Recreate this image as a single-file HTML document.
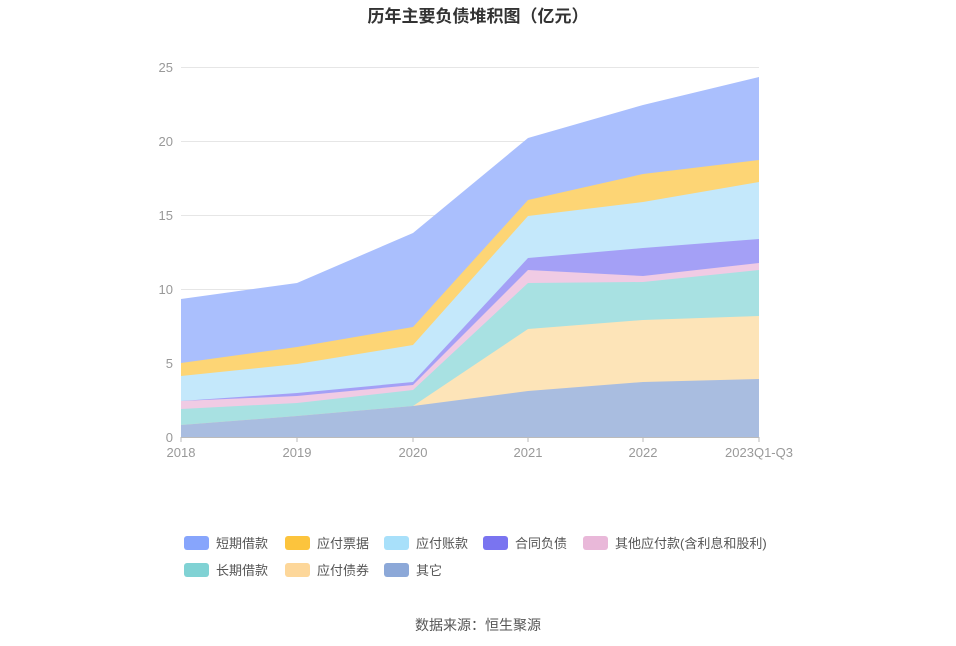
<!DOCTYPE html>
<html><head><meta charset="utf-8"><style>
body{margin:0;background:#fff;}
svg{display:block;font-family:"Liberation Sans","Noto Sans CJK SC",sans-serif;}
</style></head><body>
<svg width="956" height="646" viewBox="0 0 956 646" xmlns="http://www.w3.org/2000/svg">
<text x="478" y="22" text-anchor="middle" font-size="17" font-weight="bold" fill="#333">历年主要负债堆积图（亿元）</text>
<g stroke="#e6e6e6" stroke-width="1">
<line x1="181" y1="67.5" x2="759" y2="67.5"/><line x1="181" y1="141.5" x2="759" y2="141.5"/>
<line x1="181" y1="215.5" x2="759" y2="215.5"/><line x1="181" y1="289.5" x2="759" y2="289.5"/>
<line x1="181" y1="363.5" x2="759" y2="363.5"/>
</g>
<g font-size="13" fill="#999" text-anchor="end">
<text x="173" y="72">25</text><text x="173" y="146">20</text><text x="173" y="220">15</text>
<text x="173" y="294">10</text><text x="173" y="368">5</text><text x="173" y="442">0</text>
</g>
<!-- stacked areas, top to bottom drawn first -->
<polygon fill="#aabffd" points="181,299 297,283 413,233 528,138 643,105 759,77 759,437 181,437"/>
<polygon fill="#fdd575" points="181,363 297,347 413,327 528,200 643,174 759,160 759,437 181,437"/>
<polygon fill="#c4e8fb" points="181,376 297,364 413,345 528,216 643,202 759,182 759,437 181,437"/>
<polygon fill="#a4a0f6" points="181,401 297,393 413,382 528,258 643,248 759,239 759,437 181,437"/>
<polygon fill="#f0cbe4" points="181,401 297,396 413,385 528,270 643,276 759,263 759,437 181,437"/>
<polygon fill="#a8e1e2" points="181,409 297,403 413,390 528,283 643,282 759,270 759,437 181,437"/>
<polygon fill="#fde4b8" points="181,425 297,416 413,406 528,329 643,320 759,316 759,437 181,437"/>
<polygon fill="#a9bde0" points="181,425 297,416 413,406 528,391 643,382 759,379 759,437 181,437"/>
<line x1="181" y1="437.5" x2="759" y2="437.5" stroke="#bbb"/>
<g stroke="#bbb"><line x1="181" y1="437" x2="181" y2="442"/><line x1="297" y1="437" x2="297" y2="442"/><line x1="413" y1="437" x2="413" y2="442"/><line x1="528" y1="437" x2="528" y2="442"/><line x1="643" y1="437" x2="643" y2="442"/><line x1="759" y1="437" x2="759" y2="442"/></g>
<g font-size="13" fill="#999" text-anchor="middle">
<text x="181" y="457">2018</text><text x="297" y="457">2019</text><text x="413" y="457">2020</text>
<text x="528" y="457">2021</text><text x="643" y="457">2022</text><text x="759" y="457">2023Q1-Q3</text>
</g>
<g font-size="13" fill="#555">
<rect x="184" y="536" width="25" height="14" rx="3" fill="#87a5fc"/><text x="216" y="548">短期借款</text>
<rect x="285" y="536" width="25" height="14" rx="3" fill="#fcc43d"/><text x="317" y="548">应付票据</text>
<rect x="384" y="536" width="25" height="14" rx="3" fill="#a8e0fa"/><text x="416" y="548">应付账款</text>
<rect x="483" y="536" width="25" height="14" rx="3" fill="#7a74f0"/><text x="515" y="548">合同负债</text>
<rect x="583" y="536" width="25" height="14" rx="3" fill="#e9b8d9"/><text x="615" y="548">其他应付款(含利息和股利)</text>
<rect x="184" y="563" width="25" height="14" rx="3" fill="#80d2d4"/><text x="216" y="575">长期借款</text>
<rect x="285" y="563" width="25" height="14" rx="3" fill="#fdd79a"/><text x="317" y="575">应付债券</text>
<rect x="384" y="563" width="25" height="14" rx="3" fill="#8ca8d8"/><text x="416" y="575">其它</text>
</g>
<text x="478" y="630" text-anchor="middle" font-size="14" fill="#555">数据来源：恒生聚源</text>
</svg>
</body></html>
